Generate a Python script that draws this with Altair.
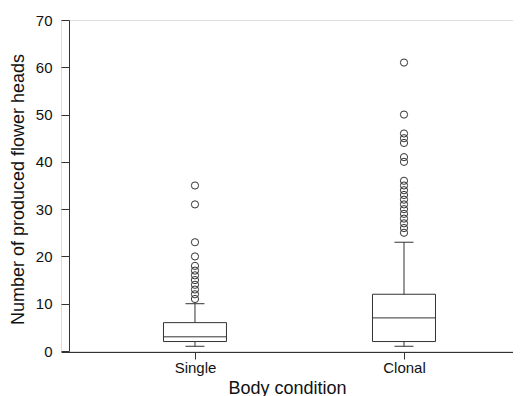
import altair as alt
import pandas as pd

categories = ["Single", "Clonal"]
positions = [1, 2]
whisker_low = [1, 1]
q1 = [2, 2]
median = [3, 7]
q3 = [6, 12]
whisker_high = [10, 23]
outliers = [
    [11, 12, 13, 14, 15, 16, 17, 18, 20, 23, 31, 35],
    [25, 26, 27, 28, 29, 30, 31, 32, 33, 34, 35, 36, 40, 41, 44, 45, 46, 50, 61],
]
y_ticks = [0, 10, 20, 30, 40, 50, 60, 70]

stats = pd.DataFrame({
    "cat": categories, "pos": positions, "lo": whisker_low, "q1": q1,
    "med": median, "q3": q3, "hi": whisker_high,
})
out_rows = []
for c, p, vals in zip(categories, positions, outliers):
    for v in vals:
        out_rows.append({"cat": c, "pos": p, "val": v})
outs = pd.DataFrame(out_rows)

LINE = "#333333"
FONT = "Liberation Sans"

label_expr = " : ".join(
    [f"datum.value == {p} ? '{c}'" for p, c in zip(positions, categories)]
) + " : ''"

xscale = alt.Scale(domain=[0.359, 2.5215], nice=False, zero=False)
yscale = alt.Scale(domain=[0, 70], nice=False)

xaxis = alt.Axis(
    values=positions, labelExpr=label_expr, title="Body condition",
    tickSize=7, labelPadding=1, grid=False,
    titleBaseline="alphabetic", titleY=41,
    domainColor=LINE, tickColor=LINE, labelFontSize=15, titleFontSize=18,
    labelColor="#111", titleColor="#111", labelFont=FONT, titleFont=FONT,
    titleFontWeight="normal", offset=1,
)
yaxis = alt.Axis(
    values=y_ticks, title="Number of produced flower heads",
    tickSize=8, labelPadding=9, titlePadding=8, titleY=169, grid=False, offset=-8,
    domainColor=LINE, tickColor=LINE, labelFontSize=15, titleFontSize=18,
    labelColor="#111", titleColor="#111", labelFont=FONT, titleFont=FONT,
    titleFontWeight="normal",
)

base = alt.Chart(stats)

whisker = base.mark_rule(color=LINE, strokeWidth=1).encode(
    x=alt.X("pos:Q", scale=xscale, axis=xaxis),
    y=alt.Y("lo:Q", scale=yscale, axis=yaxis),
    y2="hi:Q",
)
box = base.mark_rect(fill="white", stroke=LINE, strokeWidth=1, xOffset=-31.5, x2Offset=31.5).encode(
    x="pos:Q", x2="pos:Q", y="q1:Q", y2="q3:Q",
)
med = base.mark_rule(color=LINE, strokeWidth=1, xOffset=-31.5, x2Offset=31.5).encode(
    x="pos:Q", x2="pos:Q", y="med:Q",
)
cap_lo = base.mark_rule(color=LINE, strokeWidth=1, xOffset=-9.5, x2Offset=9.5).encode(
    x="pos:Q", x2="pos:Q", y="lo:Q",
)
cap_hi = base.mark_rule(color=LINE, strokeWidth=1, xOffset=-9.5, x2Offset=9.5).encode(
    x="pos:Q", x2="pos:Q", y="hi:Q",
)
pts = alt.Chart(outs).mark_point(filled=False, color=LINE, size=52, strokeWidth=1, opacity=1).encode(
    x="pos:Q", y="val:Q",
)

chart = alt.layer(whisker, box, med, cap_lo, cap_hi, pts).properties(
    width=452, height=331,
    autosize=alt.AutoSizeParams(type="none"),
    padding={"left": 53, "top": 12, "right": 0, "bottom": 48},
).configure_view(stroke=None).configure(background="white")

chart.save("out.html", embed_options={"renderer": "svg", "actions": False})
